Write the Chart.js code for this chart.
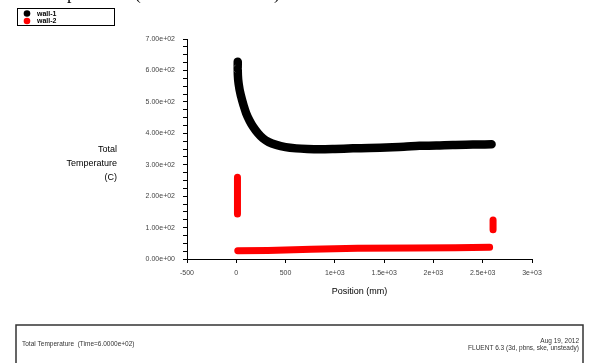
<!DOCTYPE html>
<html>
<head>
<meta charset="utf-8">
<title>Total Temperature</title>
<script src="https://cdn.jsdelivr.net/npm/chart.js@4.4.1/dist/chart.umd.min.js"></script>
<style>
    html, body { margin: 0; padding: 0; background: #fff; }
    #wrap { width: 592px; height: 363px; position: relative; overflow: hidden; }
</style>
</head>
<body>
<div id="wrap"><canvas id="chart" width="592" height="363"></canvas></div>
<script>
// values (x in mm, y in C)
const seriesLabels = ['wall-1', 'wall-2'];

const wall1Points = [
    { x: 15, y: 628 }, { x: 14, y: 605 }, { x: 16, y: 585 }, { x: 25, y: 555 },
    { x: 50, y: 516 }, { x: 75, y: 488 }, { x: 100, y: 464 }, { x: 135, y: 440 },
    { x: 170, y: 421 }, { x: 220, y: 400 }, { x: 270, y: 384 }, { x: 330, y: 372 },
    { x: 406, y: 363 }, { x: 500, y: 356 }, { x: 609, y: 352 }, { x: 720, y: 350 },
    { x: 845, y: 349 }, { x: 1000, y: 350 }, { x: 1183, y: 352 }, { x: 1350, y: 353 },
    { x: 1521, y: 355 }, { x: 1700, y: 357 }, { x: 1859, y: 360 }, { x: 2030, y: 361 },
    { x: 2197, y: 363 }, { x: 2400, y: 364 }, { x: 2590, y: 365 },
];

const wall2Left = [{ x: 12, y: 260 }, { x: 12, y: 143 }];
const wall2Floor = [
    { x: 15, y: 26 }, { x: 320, y: 27 }, { x: 760, y: 31 }, { x: 1230, y: 34 },
    { x: 1800, y: 35 }, { x: 2220, y: 36 }, { x: 2570, y: 37 },
];
const wall2Right = [{ x: 2605, y: 124 }, { x: 2605, y: 93 }];

const xTickLabels = ['-500', '0', '500', '1e+03', '1.5e+03', '2e+03', '2.5e+03', '3e+03'];
const yTickLabels = ['0.00e+00', '1.00e+02', '2.00e+02', '3.00e+02', '4.00e+02', '5.00e+02', '6.00e+02', '7.00e+02'];

const yTitleLines = ['Total', 'Temperature', '(C)'];
const xTitle = 'Position (mm)';
const plotTitle = 'Total Temperature  (Time=6.0000e+02)';
const footerLeft = 'Total Temperature  (Time=6.0000e+02)';
const footerRight = ['Aug 19, 2012', 'FLUENT 6.3 (3d, pbns, ske, unsteady)'];

const BLACK = '#000000';
const RED = '#ff0000';
const GAP = { x: 0, y: null };

const wall2Points = [].concat(wall2Left, [GAP], wall2Floor, [GAP], wall2Right);

// legend, axis titles and footer drawn as text on the canvas
const decorations = {
    id: 'decorations',
    afterDraw(chart) {
        const c = chart.ctx;
        const area = chart.chartArea;
        c.save();

        // cut-off title at the very top
        c.fillStyle = '#000';
        c.font = '18px "Liberation Serif"';
        c.textAlign = 'right';
        c.textBaseline = 'alphabetic';
        c.fillText(plotTitle, 280, -1.5);

        // legend box
        c.strokeStyle = '#000';
        c.lineWidth = 1;
        c.strokeRect(17.5, 8.5, 97, 17);
        const colors = [BLACK, RED];
        const ys = [13.5, 21];
        chart.data.datasets.forEach((ds, i) => {
            c.fillStyle = colors[i];
            c.beginPath();
            c.arc(27, ys[i], 3.3, 0, Math.PI * 2);
            c.fill();
            c.fillStyle = '#000';
            c.font = 'bold 7px "Liberation Sans"';
            c.textAlign = 'left';
            c.textBaseline = 'middle';
            c.fillText(ds.label, 37, ys[i] + 0.5);
        });

        // y axis title, horizontal and right aligned
        c.fillStyle = '#000';
        c.font = '9px "Liberation Sans"';
        c.textAlign = 'right';
        c.textBaseline = 'middle';
        yTitleLines.forEach((t, i) => c.fillText(t, 117, 149.5 + i * 13.8));

        // x axis title
        c.textAlign = 'center';
        c.font = '9px "Liberation Sans"';
        c.fillText(xTitle, (area.left + area.right) / 2, 292);

        // footer box
        c.strokeStyle = '#333';
        c.lineWidth = 1.5;
        c.strokeRect(16, 325, 567, 60);
        c.fillStyle = '#333';
        c.font = '6.5px "Liberation Sans"';
        c.textAlign = 'left';
        c.fillText(footerLeft, 22, 344);
        c.textAlign = 'right';
        c.fillText(footerRight[0], 579, 341);
        c.fillText(footerRight[1], 579, 348.5);

        c.restore();
    },
};

const ctx = document.getElementById('chart').getContext('2d');

const chart = new Chart(ctx, {
    type: 'scatter',
    data: {
        datasets: [
            {
                label: seriesLabels[0],
                data: wall1Points,
                showLine: true,
                borderColor: BLACK,
                backgroundColor: BLACK,
                borderWidth: 8.5,
                borderCapStyle: 'round',
                borderJoinStyle: 'round',
                cubicInterpolationMode: 'monotone',
                pointRadius: 0,
            },
            {
                label: seriesLabels[1],
                data: wall2Points,
                showLine: true,
                spanGaps: false,
                borderColor: RED,
                backgroundColor: RED,
                borderWidth: 7,
                borderCapStyle: 'round',
                borderJoinStyle: 'round',
                pointRadius: 0,
            },
        ],
    },
    options: {
        responsive: false,
        animation: false,
        layout: {
            padding: { left: 0, top: 39, right: 60, bottom: 0 },
        },
        scales: {
            x: {
                type: 'linear',
                min: -500,
                max: 3000,
                afterFit: (scale) => { scale.height = 104; },
                grid: {
                    drawOnChartArea: false,
                    drawTicks: true,
                    tickLength: 4,
                    tickColor: '#000',
                },
                border: { display: true, color: '#000', width: 1 },
                ticks: {
                    stepSize: 500,
                    padding: 6,
                    maxRotation: 0,
                    autoSkip: false,
                    color: '#444',
                    font: { family: 'Liberation Sans', size: 7 },
                    callback: (v, i) => xTickLabels[i],
                },
            },
            y: {
                type: 'linear',
                min: 0,
                max: 700,
                afterFit: (scale) => { scale.width = 187; },
                grid: {
                    drawOnChartArea: false,
                    drawTicks: true,
                    tickLength: 4,
                    tickColor: '#000',
                },
                border: { display: true, color: '#000', width: 1 },
                ticks: {
                    stepSize: 25,
                    padding: 8,
                    autoSkip: false,
                    color: '#444',
                    font: { family: 'Liberation Sans', size: 7 },
                    callback: (v) => (v % 100 === 0 ? yTickLabels[v / 100] : ''),
                },
            },
        },
        plugins: {
            legend: { display: false },
            tooltip: { enabled: false },
        },
    },
    plugins: [decorations],
});
</script>
</body>
</html>
